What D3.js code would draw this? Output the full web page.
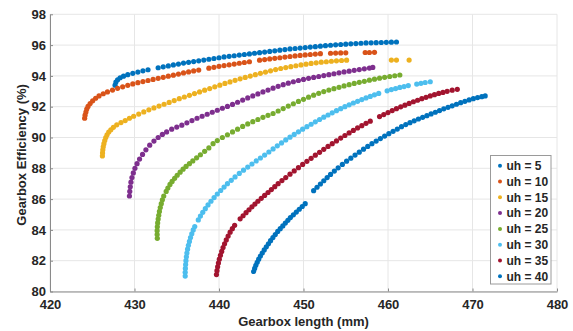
<!DOCTYPE html>
<html>
<head>
<meta charset="utf-8">
<script src="https://cdn.jsdelivr.net/npm/d3@7"></script>
<style>
  body { margin: 0; background: #fff; }
  text { font-family: "Liberation Sans", Arial, sans-serif; }
</style>
</head>
<body>
<div id="chart"></div>
<script>
// tick values
const xTicks = [420, 430, 440, 450, 460, 470, 480];
const yTicks = [80, 82, 84, 86, 88, 90, 92, 94, 96, 98];

const seriesNames = ["uh = 5", "uh = 10", "uh = 15", "uh = 20", "uh = 25", "uh = 30", "uh = 35", "uh = 40"];
const seriesColors = ["#0072BD", "#D95319", "#EDB120", "#7E2F8E", "#77AC30", "#4DBEEE", "#A2142F", "#0072BD"];

// [gearbox length (mm), efficiency (%)]
const uh5 = [[427.7,93.4],[427.8,93.6],[428.0,93.75],[428.3,93.88],[428.7,93.98],[429.2,94.08],[429.8,94.17],[430.4,94.25],
  [431.0,94.33],[431.6,94.4],[432.8,94.53],[433.4,94.59],[434.0,94.65],[434.6,94.71],[435.2,94.77],[435.8,94.83],[436.4,94.88],
  [437.0,94.93],[437.6,94.98],[438.2,95.03],[438.8,95.08],[439.4,95.13],[440.0,95.18],[440.6,95.23],[441.2,95.27],[441.8,95.31],
  [442.4,95.35],[443.0,95.39],[443.6,95.43],[444.2,95.47],[444.8,95.51],[445.4,95.55],[446.0,95.59],[446.6,95.63],[447.2,95.67],
  [447.8,95.71],[448.4,95.75],[449.0,95.78],[449.6,95.81],[450.2,95.84],[450.8,95.87],[451.4,95.9],[452.0,95.93],[452.6,95.96],
  [453.2,95.99],[453.8,96.02],[454.4,96.04],[455.0,96.06],[455.6,96.08],[456.2,96.1],[456.8,96.12],[457.4,96.14],[458.0,96.15],
  [458.6,96.16],[459.2,96.17],[459.8,96.18],[460.4,96.19],[461.0,96.2]];
const uh10 = [[424.1,91.25],[424.15,91.45],[424.25,91.65],[424.35,91.85],[424.5,92.02],[424.75,92.2],[425.05,92.38],[425.4,92.55],
  [425.8,92.7],[426.3,92.84],[426.8,92.96],[427.4,93.08],[428.0,93.19],[428.6,93.29],[429.2,93.39],[429.8,93.48],[430.4,93.56],
  [431.0,93.63],[431.6,93.7],[432.2,93.77],[432.8,93.84],[433.4,93.91],[434.0,93.98],[434.6,94.05],[435.2,94.12],[435.8,94.19],
  [436.4,94.26],[437.0,94.32],[437.6,94.38],[438.8,94.5],[439.4,94.56],[440.0,94.62],[440.6,94.67],[441.2,94.72],[441.8,94.77],
  [442.4,94.82],[443.0,94.87],[443.6,94.92],[444.8,95.02],[445.4,95.06],[446.0,95.1],[446.6,95.14],[447.2,95.18],[447.8,95.22],
  [448.4,95.26],[449.0,95.3],[449.6,95.33],[450.2,95.36],[450.8,95.39],[451.4,95.42],[452.0,95.44],[453.2,95.47],[453.8,95.48],
  [454.4,95.49],[455.0,95.5],[457.3,95.52],[457.8,95.52],[458.4,95.53]];
const uh15 = [[426.2,88.8],[426.22,89.0],[426.25,89.2],[426.3,89.4],[426.38,89.6],[426.48,89.8],[426.6,90.0],[426.75,90.18],
  [426.95,90.35],[427.2,90.5],[427.5,90.66],[427.9,90.82],[428.4,90.97],[428.9,91.1],[429.4,91.25],[429.9,91.38],[430.5,91.52],
  [431.1,91.66],[431.7,91.8],[432.3,91.92],[432.9,92.04],[433.5,92.16],[434.1,92.28],[434.7,92.4],[435.3,92.52],[435.9,92.63],
  [436.5,92.74],[437.1,92.85],[437.7,92.96],[438.3,93.07],[438.9,93.18],[439.5,93.29],[440.1,93.4],[440.7,93.51],[441.3,93.61],
  [441.9,93.71],[442.5,93.81],[443.1,93.9],[443.7,93.99],[444.3,94.08],[444.9,94.17],[445.5,94.25],[446.1,94.33],[446.7,94.41],
  [447.3,94.48],[447.9,94.54],[448.5,94.6],[449.1,94.66],[449.7,94.71],[450.3,94.76],[450.9,94.81],[451.5,94.85],[452.1,94.89],
  [452.7,94.92],[453.3,94.95],[453.9,94.98],[454.5,95.0],[455.1,95.02],[460.4,95.03],[461.0,95.03],[462.5,95.03]];
const uh20 = [[429.4,86.2],[429.44,86.5],[429.5,86.8],[429.58,87.1],[429.7,87.4],[429.86,87.7],[430.05,88.0],[430.3,88.3],
  [430.6,88.6],[430.95,88.9],[431.35,89.2],[431.8,89.5],[432.3,89.77],[432.8,90.0],[433.3,90.2],[433.8,90.36],[434.4,90.54],
  [435.0,90.68],[435.6,90.8],[436.2,90.95],[436.8,91.1],[437.4,91.25],[438.0,91.38],[438.6,91.51],[439.2,91.64],[439.8,91.77],
  [440.4,91.9],[441.0,92.02],[441.6,92.15],[442.2,92.29],[442.8,92.43],[443.4,92.57],[444.0,92.7],[444.6,92.83],[445.2,92.96],
  [445.8,93.08],[446.4,93.2],[447.0,93.32],[447.6,93.43],[448.2,93.53],[448.8,93.62],[449.4,93.7],[450.0,93.77],[450.6,93.84],
  [451.2,93.9],[451.8,93.96],[452.4,94.02],[453.0,94.08],[453.6,94.14],[454.2,94.2],[454.8,94.26],[455.4,94.31],[456.0,94.36],
  [456.6,94.41],[457.2,94.46],[457.8,94.51],[458.2,94.55]];
const uh25 = [[432.7,83.45],[432.68,83.7],[432.68,83.95],[432.7,84.2],[432.74,84.45],[432.8,84.7],[432.87,84.95],[432.95,85.2],
  [433.05,85.45],[433.17,85.7],[433.3,85.95],[433.46,86.2],[433.75,86.5],[433.95,86.72],[434.2,86.95],[434.45,87.15],[434.75,87.35],
  [435.05,87.55],[435.4,87.75],[435.75,87.94],[436.1,88.12],[436.5,88.3],[436.9,88.48],[437.35,88.68],[437.8,88.88],[438.3,89.1],
  [438.8,89.32],[439.3,89.6],[439.8,89.8],[440.4,90.0],[441.0,90.18],[441.6,90.36],[442.2,90.54],[442.8,90.72],[443.4,90.88],
  [444.0,91.03],[444.6,91.17],[445.2,91.31],[445.8,91.44],[446.4,91.56],[447.0,91.72],[447.6,91.88],[448.2,92.04],[448.8,92.19],
  [449.4,92.34],[450.0,92.48],[450.6,92.62],[451.2,92.75],[451.8,92.87],[452.4,92.98],[453.0,93.08],[453.6,93.17],[454.2,93.26],
  [454.8,93.35],[455.4,93.43],[456.0,93.51],[456.6,93.58],[457.2,93.65],[457.8,93.72],[458.4,93.79],[459.0,93.85],[459.6,93.91],
  [460.2,93.96],[460.8,94.01],[461.4,94.06]];
const uh30 = [[436.0,81.0],[436.0,81.25],[436.02,81.5],[436.05,81.75],[436.09,82.0],[436.14,82.25],[436.2,82.5],[436.28,82.75],
  [436.38,83.0],[436.5,83.25],[436.63,83.5],[436.78,83.75],[436.95,84.0],[437.13,84.22],[437.55,84.65],[437.8,84.9],[438.08,85.14],
  [438.38,85.38],[438.7,85.62],[439.05,85.86],[439.42,86.1],[439.8,86.33],[440.2,86.56],[440.6,86.78],[441.0,87.0],[441.45,87.22],
  [441.9,87.44],[442.4,87.67],[442.9,87.88],[443.4,88.08],[443.9,88.28],[444.4,88.48],[444.9,88.67],[445.4,88.86],[445.9,89.06],
  [446.4,89.26],[446.9,89.46],[447.4,89.65],[447.9,89.84],[448.4,90.02],[448.9,90.2],[449.4,90.37],[449.9,90.54],[450.4,90.7],
  [450.9,90.86],[451.4,91.02],[451.9,91.17],[452.4,91.32],[452.9,91.46],[453.4,91.6],[453.9,91.74],[454.4,91.87],[454.9,92.0],
  [455.4,92.12],[455.9,92.24],[456.4,92.35],[456.9,92.46],[457.4,92.57],[457.9,92.67],[458.4,92.77],[458.9,92.86],[459.9,93.03],
  [460.4,93.11],[460.9,93.18],[461.4,93.25],[461.9,93.31],[462.4,93.37],[463.4,93.47],[463.9,93.52],[464.4,93.57],[465.0,93.62]];
const uh35 = [[439.7,81.1],[439.76,81.35],[439.84,81.6],[439.93,81.85],[440.04,82.1],[440.17,82.35],[440.32,82.6],[440.48,82.85],
  [440.66,83.1],[440.86,83.35],[441.08,83.6],[441.32,83.85],[441.58,84.08],[441.85,84.3],[442.5,84.72],[442.85,84.92],[443.2,85.12],
  [443.55,85.31],[443.9,85.5],[444.25,85.68],[444.6,85.86],[445.0,86.05],[445.4,86.24],[445.8,86.43],[446.2,86.62],[446.6,86.81],
  [447.0,87.0],[447.45,87.2],[447.9,87.4],[448.4,87.62],[448.9,87.83],[449.4,88.04],[449.9,88.25],[450.4,88.45],[450.9,88.65],
  [451.4,88.85],[451.9,89.04],[452.4,89.23],[452.9,89.42],[453.4,89.6],[453.9,89.78],[454.4,89.96],[454.9,90.13],[455.4,90.3],
  [455.9,90.46],[456.4,90.62],[456.9,90.77],[457.4,90.92],[457.9,91.06],[459.0,91.36],[459.5,91.49],[460.0,91.62],[460.5,91.75],
  [461.0,91.87],[461.5,91.99],[462.0,92.1],[462.5,92.21],[463.0,92.32],[463.5,92.42],[464.0,92.52],[464.5,92.61],[465.0,92.7],
  [465.5,92.78],[466.0,92.86],[466.5,92.93],[467.0,93.0],[467.6,93.07],[468.2,93.13]];
const uh40 = [[444.1,81.3],[444.22,81.5],[444.36,81.7],[444.52,81.9],[444.7,82.1],[444.9,82.3],[445.12,82.5],[445.35,82.7],
  [445.6,82.9],[445.85,83.1],[446.1,83.3],[446.38,83.5],[446.66,83.7],[446.95,83.9],[447.25,84.08],[447.55,84.26],[447.85,84.44],
  [448.15,84.62],[448.45,84.8],[448.8,84.98],[449.15,85.16],[449.5,85.34],[449.85,85.52],[450.2,85.7],[451.2,86.55],[451.6,86.77],
  [452.0,86.98],[452.4,87.19],[452.8,87.4],[453.2,87.6],[453.65,87.82],[454.1,88.03],[454.6,88.25],[455.1,88.46],[455.6,88.66],
  [456.1,88.86],[456.6,89.05],[457.1,89.24],[457.6,89.42],[458.1,89.6],[458.6,89.77],[459.1,89.93],[459.6,90.09],[460.1,90.25],
  [460.6,90.4],[461.1,90.55],[461.6,90.7],[462.1,90.84],[462.6,90.96],[463.1,91.08],[463.6,91.2],[464.1,91.31],[464.6,91.42],
  [465.1,91.53],[465.6,91.64],[466.1,91.75],[466.6,91.86],[467.1,91.96],[467.6,92.06],[468.1,92.16],[468.6,92.26],[469.1,92.35],
  [469.6,92.44],[470.1,92.52],[470.6,92.59],[471.1,92.65],[471.5,92.7]];

const allSeries = [uh5, uh10, uh15, uh20, uh25, uh30, uh35, uh40];

const width = 573, height = 331;
const svg = d3.select("#chart").append("svg")
    .attr("width", width)
    .attr("height", height);

svg.append("rect").attr("width", width).attr("height", height).attr("fill", "#fff");

const x = d3.scaleLinear().domain([420, 480]).range([50, 557]);
const y = d3.scaleLinear().domain([80, 98]).range([291.5, 14.3]);

// grid
const grid = svg.append("g").attr("stroke", "#e6e6e6").attr("stroke-width", 1);
grid.selectAll(".gx").data(xTicks).join("line")
    .attr("x1", d => x(d)).attr("x2", d => x(d))
    .attr("y1", y(80)).attr("y2", y(98));
grid.selectAll(".gy").data(yTicks).join("line")
    .attr("x1", x(420)).attr("x2", x(480))
    .attr("y1", d => y(d)).attr("y2", d => y(d));

// axes
const xAxis = svg.append("g")
    .attr("transform", `translate(0,${y(80)})`)
    .call(d3.axisBottom(x).tickValues(xTicks).tickSize(-3).tickSizeOuter(0).tickPadding(8.5));
const yAxis = svg.append("g")
    .attr("transform", `translate(${x(420)},0)`)
    .call(d3.axisLeft(y).tickValues(yTicks).tickSize(-3).tickSizeOuter(0).tickPadding(4));

[xAxis, yAxis].forEach(g => {
    g.select(".domain").attr("stroke", "#8a8a8a");
    g.selectAll(".tick line").attr("stroke", "#8a8a8a");
    g.selectAll(".tick text")
        .attr("fill", "#262626")
        .style("font-size", "13px")
        .style("font-weight", "bold")
        .style("font-family", '"Liberation Sans", Arial, sans-serif');
});

// points
allSeries.forEach((pts, i) => {
    svg.append("g")
        .attr("fill", seriesColors[i])
        .selectAll("circle")
        .data(pts)
        .join("circle")
        .attr("cx", d => x(d[0]))
        .attr("cy", d => y(d[1]))
        .attr("r", 2.6);
});

// axis titles
svg.append("text")
    .attr("x", (x(420) + x(480)) / 2)
    .attr("y", 326)
    .attr("text-anchor", "middle")
    .attr("fill", "#262626")
    .style("font-size", "13px")
    .style("font-weight", "bold")
    .text("Gearbox length (mm)");

svg.append("text")
    .attr("transform", `translate(26,${(y(80) + y(98)) / 2 + 2}) rotate(-90)`)
    .attr("text-anchor", "middle")
    .attr("fill", "#262626")
    .style("font-size", "13px")
    .style("font-weight", "bold")
    .text("Gearbox Efficiency (%)");

// legend
const legend = svg.append("g");
legend.append("rect")
    .attr("x", 490.5).attr("y", 155.5)
    .attr("width", 60.5).attr("height", 128.5)
    .attr("fill", "#fff")
    .attr("stroke", "#9a9a9a");

const rows = legend.selectAll(".row").data(seriesNames).join("g")
    .attr("transform", (d, i) => `translate(500,${165.7 + i * 15.8})`);
rows.append("circle").attr("r", 2).attr("fill", (d, i) => seriesColors[i]);
rows.append("text")
    .attr("x", 6.5)
    .attr("dy", "0.35em")
    .attr("fill", "#262626")
    .style("font-size", "12px")
    .style("font-weight", "bold")
    .text(d => d);
</script>
</body>
</html>
